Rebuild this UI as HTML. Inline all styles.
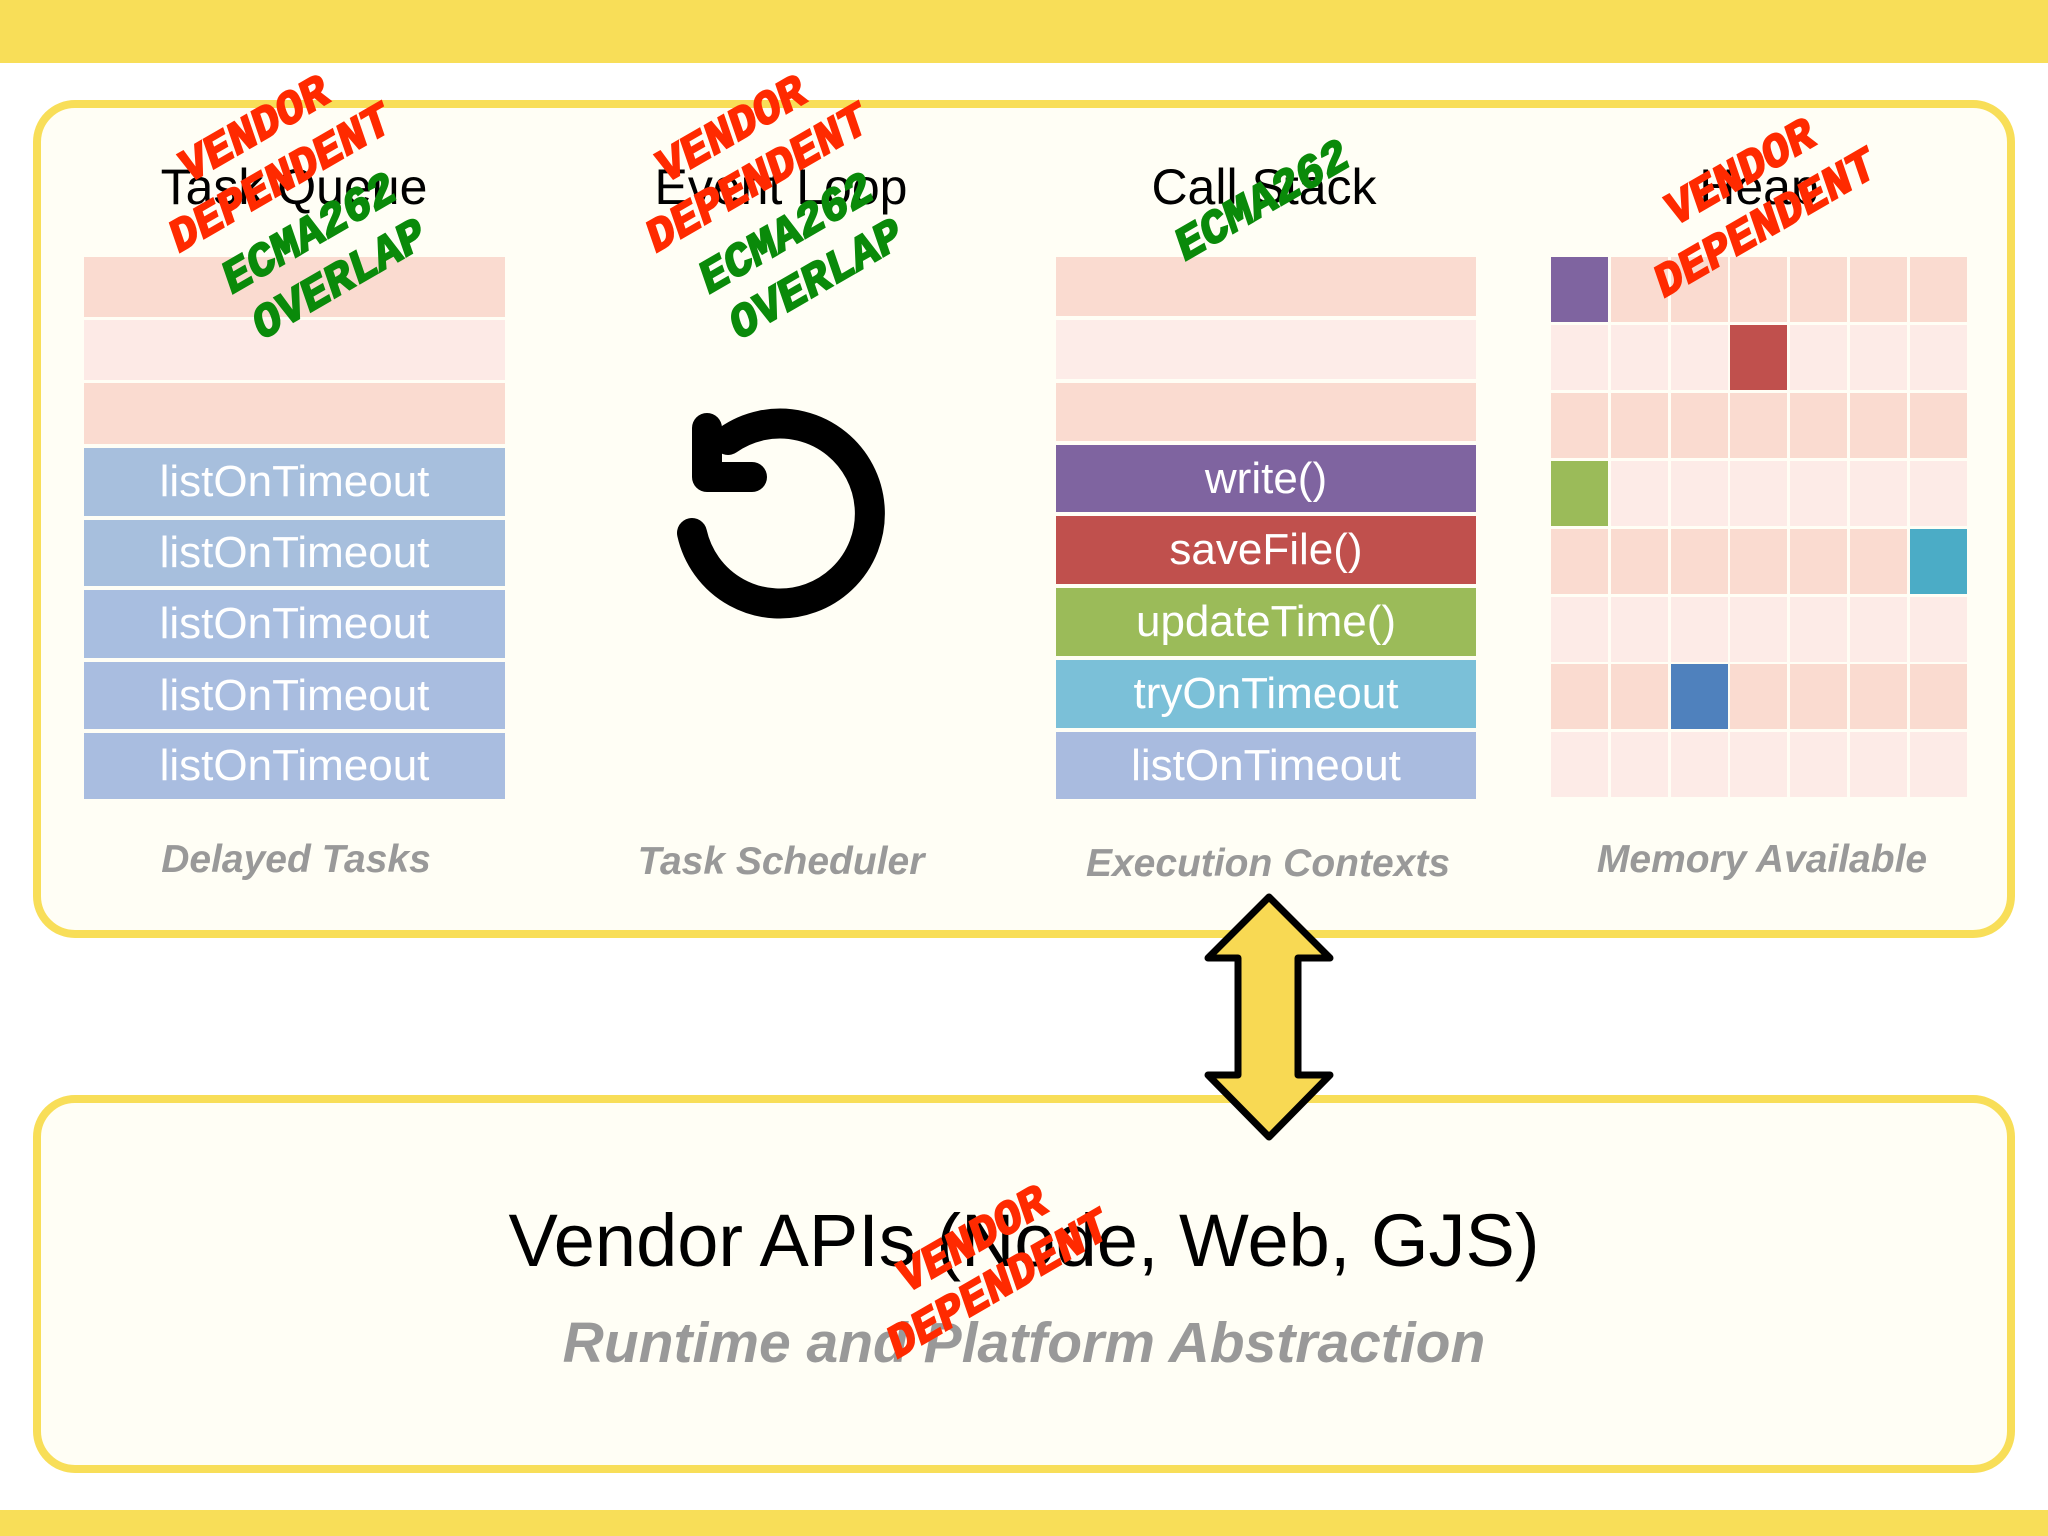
<!DOCTYPE html>
<html><head><meta charset="utf-8"><style>
*{margin:0;padding:0;box-sizing:border-box}
body{width:2048px;height:1536px;position:relative;background:#fff;overflow:hidden;font-family:"Liberation Sans",sans-serif}
.a{position:absolute}
.bar{position:absolute;left:0;width:2048px;background:#f8de58}
.panel{position:absolute;left:33px;width:1982px;border:8px solid #f8de58;border-radius:42px;background:#fffef5}
.row{position:absolute;color:#fff;font-size:44px;text-align:center;display:flex;align-items:center;justify-content:center}
.hd{position:absolute;font-size:50px;color:#000;text-align:center;width:500px;transform:translateX(-50%)}
.cap{position:absolute;font-size:39px;color:#999;font-style:italic;font-weight:bold;text-align:center;width:500px;transform:translateX(-50%)}
.st{position:absolute;font-family:"Liberation Mono",monospace;font-weight:bold;font-style:italic;font-size:46px;white-space:nowrap;transform:translate(-50%,-50%) rotate(-30deg);line-height:1;-webkit-text-stroke:2px currentColor}
.r{color:#ff2a00}.g{color:#0a8a0a}
</style></head><body>
<div class="bar" style="top:0;height:63px"></div>
<div class="bar" style="top:1510px;height:26px"></div>
<div class="panel" style="top:100px;height:838px"></div>
<div class="panel" style="top:1095px;height:378px"></div>

<div class="hd" style="left:294px;top:158px">Task Queue</div>
<div class="hd" style="left:781px;top:158px">Event Loop</div>
<div class="hd" style="left:1264px;top:158px">Call Stack</div>
<div class="hd" style="left:1759px;top:158px">Heap</div>

<div class="row" style="left:84px;width:421px;top:257px;height:60px;background:#fadbd0"></div>
<div class="row" style="left:84px;width:421px;top:320px;height:60px;background:#fdeae6"></div>
<div class="row" style="left:84px;width:421px;top:383px;height:61px;background:#fadbd0"></div>
<div class="row" style="left:84px;width:421px;top:448px;height:68px;background:#a7bfdd">listOnTimeout</div>
<div class="row" style="left:84px;width:421px;top:520px;height:66px;background:#a7bfdd">listOnTimeout</div>
<div class="row" style="left:84px;width:421px;top:590px;height:68px;background:#a8bee0">listOnTimeout</div>
<div class="row" style="left:84px;width:421px;top:662px;height:67px;background:#a9bde0">listOnTimeout</div>
<div class="row" style="left:84px;width:421px;top:733px;height:66px;background:#a9bde0">listOnTimeout</div>

<div class="row" style="left:1056px;width:420px;top:257px;height:59px;background:#fadbd0"></div>
<div class="row" style="left:1056px;width:420px;top:320px;height:59px;background:#fdece8"></div>
<div class="row" style="left:1056px;width:420px;top:383px;height:58px;background:#fadbd0"></div>
<div class="row" style="left:1056px;width:420px;top:445px;height:67px;background:#7f64a0">write()</div>
<div class="row" style="left:1056px;width:420px;top:516px;height:68px;background:#c0504d">saveFile()</div>
<div class="row" style="left:1056px;width:420px;top:588px;height:68px;background:#9bbb59">updateTime()</div>
<div class="row" style="left:1056px;width:420px;top:660px;height:68px;background:#7bc0d8">tryOnTimeout</div>
<div class="row" style="left:1056px;width:420px;top:732px;height:67px;background:#a9bbdf">listOnTimeout</div>

<svg class="a" style="left:1551px;top:257px" width="418" height="543">
<g fill="#fadbd0">
<rect x="0" y="0" width="57" height="65" fill="#7f64a0"/><rect x="60" y="0" width="57" height="65"/><rect x="120" y="0" width="57" height="65"/><rect x="179" y="0" width="57" height="65"/><rect x="239" y="0" width="57" height="65"/><rect x="299" y="0" width="57" height="65"/><rect x="359" y="0" width="57" height="65"/>
<rect x="0" y="68" width="57" height="65" fill="#fdebe7"/><rect x="60" y="68" width="57" height="65" fill="#fdebe7"/><rect x="120" y="68" width="57" height="65" fill="#fdebe7"/><rect x="179" y="68" width="57" height="65" fill="#c0504d"/><rect x="239" y="68" width="57" height="65" fill="#fdebe7"/><rect x="299" y="68" width="57" height="65" fill="#fdebe7"/><rect x="359" y="68" width="57" height="65" fill="#fdebe7"/>
<rect x="0" y="136" width="57" height="65"/><rect x="60" y="136" width="57" height="65"/><rect x="120" y="136" width="57" height="65"/><rect x="179" y="136" width="57" height="65"/><rect x="239" y="136" width="57" height="65"/><rect x="299" y="136" width="57" height="65"/><rect x="359" y="136" width="57" height="65"/>
<rect x="0" y="204" width="57" height="65" fill="#9bbb59"/><rect x="60" y="204" width="57" height="65" fill="#fdebe7"/><rect x="120" y="204" width="57" height="65" fill="#fdebe7"/><rect x="179" y="204" width="57" height="65" fill="#fdebe7"/><rect x="239" y="204" width="57" height="65" fill="#fdebe7"/><rect x="299" y="204" width="57" height="65" fill="#fdebe7"/><rect x="359" y="204" width="57" height="65" fill="#fdebe7"/>
<rect x="0" y="272" width="57" height="65"/><rect x="60" y="272" width="57" height="65"/><rect x="120" y="272" width="57" height="65"/><rect x="179" y="272" width="57" height="65"/><rect x="239" y="272" width="57" height="65"/><rect x="299" y="272" width="57" height="65"/><rect x="359" y="272" width="57" height="65" fill="#4bacc6"/>
<rect x="0" y="340" width="57" height="65" fill="#fdebe7"/><rect x="60" y="340" width="57" height="65" fill="#fdebe7"/><rect x="120" y="340" width="57" height="65" fill="#fdebe7"/><rect x="179" y="340" width="57" height="65" fill="#fdebe7"/><rect x="239" y="340" width="57" height="65" fill="#fdebe7"/><rect x="299" y="340" width="57" height="65" fill="#fdebe7"/><rect x="359" y="340" width="57" height="65" fill="#fdebe7"/>
<rect x="0" y="407" width="57" height="65"/><rect x="60" y="407" width="57" height="65"/><rect x="120" y="407" width="57" height="65" fill="#4f81bd"/><rect x="179" y="407" width="57" height="65"/><rect x="239" y="407" width="57" height="65"/><rect x="299" y="407" width="57" height="65"/><rect x="359" y="407" width="57" height="65"/>
<rect x="0" y="475" width="57" height="65" fill="#fdebe7"/><rect x="60" y="475" width="57" height="65" fill="#fdebe7"/><rect x="120" y="475" width="57" height="65" fill="#fdebe7"/><rect x="179" y="475" width="57" height="65" fill="#fdebe7"/><rect x="239" y="475" width="57" height="65" fill="#fdebe7"/><rect x="299" y="475" width="57" height="65" fill="#fdebe7"/><rect x="359" y="475" width="57" height="65" fill="#fdebe7"/>
</g>
</svg>

<svg class="a" style="left:0;top:0" width="2048" height="1536">
<path d="M692 533 A90 90 0 1 0 728 440" fill="none" stroke="#000" stroke-width="30" stroke-linecap="round"/>
<polyline points="707,428 707,477 752,477" fill="none" stroke="#000" stroke-width="30" stroke-linecap="round" stroke-linejoin="round"/>
<polygon points="1269,897 1330,958 1298,958 1298,1075 1330,1075 1269,1137 1208,1075 1238,1075 1238,958 1208,958" fill="#f8d953" stroke="#000" stroke-width="7" stroke-linejoin="round"/>
</svg>

<div class="cap" style="left:296px;top:838px">Delayed Tasks</div>
<div class="cap" style="left:781px;top:840px">Task Scheduler</div>
<div class="cap" style="left:1268px;top:842px">Execution Contexts</div>
<div class="cap" style="left:1762px;top:838px">Memory Available</div>

<div class="a" style="left:0;width:2048px;text-align:center;top:1198px;font-size:74px;color:#000">Vendor APIs (Node, Web, GJS)</div>
<div class="a" style="left:0;width:2048px;text-align:center;top:1310px;font-size:57px;color:#999;font-style:italic;font-weight:bold">Runtime and Platform Abstraction</div>

<div class="st r" style="left:255px;top:131px">VENDOR</div>
<div class="st r" style="left:281px;top:180px">DEPENDENT</div>
<div class="st g" style="left:310px;top:235px">ECMA262</div>
<div class="st g" style="left:340px;top:281px">OVERLAP</div>
<div class="st r" style="left:732px;top:131px">VENDOR</div>
<div class="st r" style="left:758px;top:180px">DEPENDENT</div>
<div class="st g" style="left:787px;top:235px">ECMA262</div>
<div class="st g" style="left:817px;top:281px">OVERLAP</div>
<div class="st g" style="left:1263px;top:202px">ECMA262</div>
<div class="st r" style="left:1741px;top:174px">VENDOR</div>
<div class="st r" style="left:1766px;top:225px">DEPENDENT</div>
<div class="st r" style="left:973px;top:1241px">VENDOR</div>
<div class="st r" style="left:999px;top:1286px">DEPENDENT</div>
</body></html>
